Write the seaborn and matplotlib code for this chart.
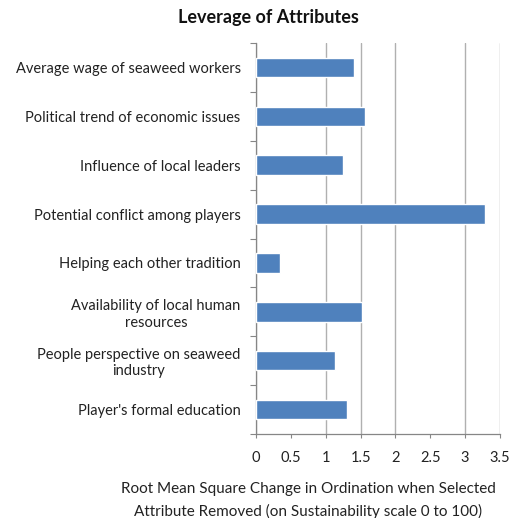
import matplotlib
matplotlib.use("Agg")
import matplotlib.pyplot as plt
import seaborn as sns
import pandas as pd
import numpy as np

attributes = [
    "Average wage of seaweed workers",
    "Political trend of economic issues",
    "Influence of local leaders",
    "Potential conflict among players",
    "Helping each other tradition",
    "Availability of local human\nresources",
    "People perspective on seaweed\nindustry",
    "Player's formal education",
]
leverage = [1.41, 1.57, 1.25, 3.28, 0.34, 1.52, 1.14, 1.30]
x_ticks = [0, 0.5, 1, 1.5, 2, 2.5, 3, 3.5]
x_tick_labels = ["0", "0.5", "1", "1.5", "2", "2.5", "3", "3.5"]

df = pd.DataFrame({"attribute": attributes, "leverage": leverage})

sns.set_theme(style="white")
plt.rcParams["font.family"] = ["Lato", "DejaVu Sans"]

fig = plt.figure(figsize=(5.17, 5.18), dpi=100)
ax = fig.add_axes([256 / 517, 1 - 434 / 518, 244 / 517, 391 / 518])

sns.barplot(data=df, x="leverage", y="attribute", orient="h", color="#4F81BD",
            saturation=1, width=0.4, ax=ax, zorder=3)

ax.set_xlim(0, 3.5)
ax.set_ylim(len(attributes) - 0.5, -0.5)
ax.set_xticks(x_ticks)
ax.set_xticklabels(x_tick_labels, fontsize=10.5, color="#222222")
ax.tick_params(axis="x", bottom=True, direction="out", length=3, width=0.8,
               color="#868686", pad=9)

# category labels at centres, tick marks at category boundaries
ax.set_yticks(range(len(attributes)))
ax.set_yticklabels(attributes, fontsize=10.5, color="#222222", multialignment="center")
ax.tick_params(axis="y", which="major", length=0, pad=11)
ax.set_yticks(np.arange(-0.5, len(attributes), 1), minor=True)
ax.tick_params(axis="y", which="minor", left=True, direction="out", length=4,
               width=0.8, color="#868686")

ax.grid(axis="x", color="#b0b0b0", linewidth=1.0, zorder=0)
for i, line in enumerate(ax.xaxis.get_gridlines()):
    if x_ticks[i] in (0.5, 2.5):
        line.set_visible(False)

for side in ["top", "right"]:
    ax.spines[side].set_visible(False)
for side in ["left", "bottom"]:
    ax.spines[side].set_color("#868686")
    ax.spines[side].set_linewidth(0.9)

ax.set_ylabel("")
ax.set_xlabel("Root Mean Square Change in Ordination when Selected\nAttribute Removed (on Sustainability scale 0 to 100)",
              fontsize=11, color="#222222", linespacing=1.65)
ax.xaxis.set_label_coords(0.215, -0.122, transform=ax.transAxes)
ax.xaxis.label.set_verticalalignment("top")

fig.text(268 / 517, 1 - 18 / 518, "Leverage of Attributes", ha="center", va="center",
         fontsize=13, fontweight="bold", color="#111111")

fig.savefig("out.png", dpi=100, facecolor="white")
